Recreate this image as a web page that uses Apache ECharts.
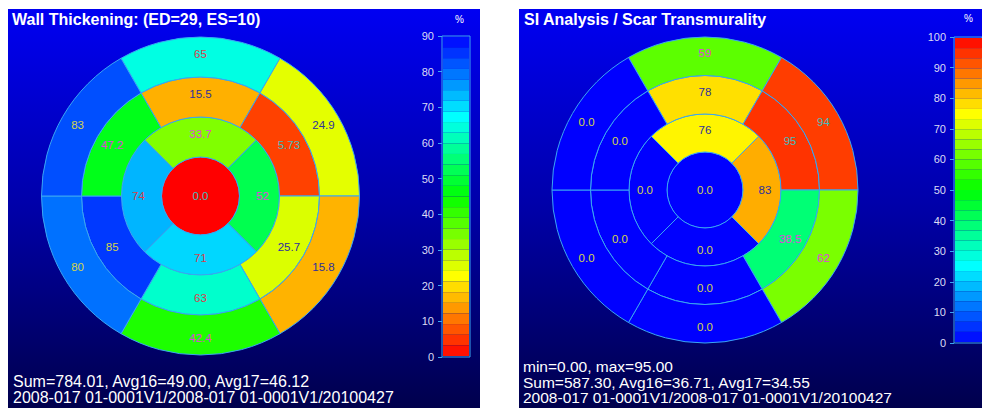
<!DOCTYPE html>
<html><head><meta charset="utf-8">
<script src="https://cdn.jsdelivr.net/npm/echarts@6/dist/echarts.min.js"></script>
<style>html,body{margin:0;padding:0;background:#fff;}#c{width:982px;height:408px;}</style>
</head><body><div id="c"></div>
<script>
// ---------- data ----------
const leftTitle = 'Wall Thickening: (ED=29, ES=10)';
const rightTitle = 'SI Analysis / Scar Transmurality';
// AHA 17-segment values; each ring listed clockwise starting with the top segment
const leftBasal = [65, 24.9, 15.8, 42.4, 80, 83];
const leftMid = [15.5, 5.73, 25.7, 63, 85, 47.2];
const leftApical = [33.7, 52, 71, 74];
const leftApex = [0.0];
const rightBasal = [59, 94, 62, 0, 0, 0];
const rightMid = [78, 95, 38.5, 0, 0, 0];
const rightApical = [76, 83, 0, 0];
const rightApex = [0.0];
const leftRange = [0, 90];
const rightRange = [0, 100];
const tickStep = 10;
const unitLabel = '%';
const leftInfo = ['Sum=784.01, Avg16=49.00, Avg17=46.12', '2008-017 01-0001V1/2008-017 01-0001V1/20100427'];
const rightInfo = ['min=0.00, max=95.00', 'Sum=587.30, Avg16=36.71, Avg17=34.55', '2008-017 01-0001V1/2008-017 01-0001V1/20100427'];

// ---------- helpers ----------
const FONT = 'Liberation Sans, Arial, sans-serif';
const BORDER = '#3aa6f2';
const BANDS = 30;
function hueRGB(h) {
  const x = 1 - Math.abs((h / 60) % 2 - 1);
  let r, g, b;
  if (h < 60) { r = 1; g = x; b = 0; } else if (h < 120) { r = x; g = 1; b = 0; }
  else if (h < 180) { r = 0; g = 1; b = x; } else { r = 0; g = x; b = 1; }
  return [r, g, b].map(c => Math.round(c * 255));
}
function makeHue(range, lowIsBlue) {
  return v => {
    let t = (v - range[0]) / (range[1] - range[0]);
    t = Math.max(0, Math.min(1, t));
    return lowIsBlue ? 240 * (1 - t) : 240 * t;
  };
}
const css = c => 'rgb(' + c.join(',') + ')';
// contrasting label colour chosen from the segment's hue
function labelColor(h) {
  if (h >= 200) return '#d4d44c';
  if (h >= 160) return '#d8404c';
  if (h >= 80) return '#e044dc';
  if (h >= 30) return '#30309c';
  return '#44bcbc';
}
function fmt(v) {
  if (v === 0) return '0.0';
  if (v >= 50) return String(Math.round(v));
  if (v >= 10) return v.toFixed(1);
  return v.toFixed(2);
}
function ring(values, center, r0, r1, startAngle, hue) {
  return {
    type: 'pie', center: center, radius: [r0, r1], startAngle: startAngle, clockwise: true,
    silent: true, animation: false, avoidLabelOverlap: false,
    label: { show: true, position: r0 === 0 ? 'center' : 'inside', fontSize: 11.5, fontFamily: FONT },
    labelLine: { show: false }, emphasis: { disabled: true },
    itemStyle: { borderColor: BORDER, borderWidth: 1 },
    data: values.map((v, i) => ({
      value: 1, name: 's' + i,
      itemStyle: { color: css(hueRGB(hue(v))) },
      label: { formatter: fmt(v), color: labelColor(hue(v)) }
    }))
  };
}
function pieces(range, hue) {
  const out = [], step = (range[1] - range[0]) / BANDS;
  for (let i = 0; i < BANDS; i++) {
    const lo = range[0] + i * step, hi = lo + step;
    const p = { gte: lo, color: css(hueRGB(hue(lo + step / 2))) };
    if (i === BANDS - 1) p.lte = hi; else p.lt = hi;
    out.push(p);
  }
  return out;
}
const leftHue = makeHue(leftRange, false);
const rightHue = makeHue(rightRange, true);

const LC = [200.5, 196], LR = [39, 79, 119, 159];
const RC = [705, 190], RR = [38, 76, 114.5, 153];

const bg = { type: 'linear', x: 0, y: 0, x2: 0, y2: 1,
  colorStops: [{ offset: 0, color: '#0000f2' }, { offset: 0.5, color: '#0000a8' }, { offset: 1, color: '#00004c' }] };

const series = [
  ring(leftApex, LC, 0, LR[0], 90, leftHue),
  ring(leftApical, LC, LR[0], LR[1], 135, leftHue),
  ring(leftMid, LC, LR[1], LR[2], 120, leftHue),
  ring(leftBasal, LC, LR[2], LR[3], 120, leftHue),
  ring(rightApex, RC, 0, RR[0], 90, rightHue),
  ring(rightApical, RC, RR[0], RR[1], 135, rightHue),
  ring(rightMid, RC, RR[1], RR[2], 120, rightHue),
  ring(rightBasal, RC, RR[2], RR[3], 120, rightHue),
  { type: 'scatter', xAxisIndex: 0, yAxisIndex: 0, data: [], silent: true },
  { type: 'scatter', xAxisIndex: 1, yAxisIndex: 1, data: [], silent: true }
];

const axisY = (grid, range) => ({
  gridIndex: grid, type: 'value', min: range[0], max: range[1], interval: tickStep, position: 'left',
  axisLine: { show: false }, splitLine: { show: false },
  axisTick: { show: true, length: 4, lineStyle: { color: BORDER } },
  axisLabel: { color: '#dcdcf4', fontSize: 11, margin: 8, fontFamily: FONT }
});
const txt = (text, left, top, size, weight, lh) => ({
  text: text, left: left, top: top, padding: 0,
  textStyle: { color: '#ffffff', fontSize: size, fontWeight: weight, fontFamily: FONT, lineHeight: lh }
});

const option = {
  animation: false,
  backgroundColor: '#ffffff',
  graphic: [
    { type: 'rect', z: -10, silent: true, shape: { x: 8, y: 9, width: 472, height: 399 }, style: { fill: bg } },
    { type: 'rect', z: -10, silent: true, shape: { x: 519, y: 9, width: 463, height: 399 }, style: { fill: bg } }
  ],
  title: [
    txt(leftTitle, 12, 11, 16, 'bold', 16),
    txt(rightTitle, 524, 11, 16, 'bold', 16),
    txt(unitLabel, 455, 13, 10, 'normal', 12),
    txt(unitLabel, 964, 12, 10, 'normal', 12),
    txt(leftInfo.join('\n'), 13, 374, 16, 'normal', 15.5),
    txt(rightInfo.join('\n'), 523, 359, 15.5, 'normal', 15.5)
  ],
  grid: [
    { left: 442, top: 36, width: 28, height: 321, show: true, borderColor: BORDER, borderWidth: 1, backgroundColor: 'rgba(0,0,0,0)' },
    { left: 954, top: 37, width: 28, height: 306, show: true, borderColor: BORDER, borderWidth: 1, backgroundColor: 'rgba(0,0,0,0)' }
  ],
  xAxis: [{ gridIndex: 0, type: 'value', show: false }, { gridIndex: 1, type: 'value', show: false }],
  yAxis: [axisY(0, leftRange), axisY(1, rightRange)],
  visualMap: [
    { type: 'piecewise', seriesIndex: 8, pieces: pieces(leftRange, leftHue), orient: 'vertical',
      left: 443, top: 37, itemWidth: 26, itemHeight: 319 / BANDS, itemGap: 0, itemSymbol: 'rect',
      showLabel: false, padding: 0, selectedMode: false, hoverLink: false },
    { type: 'piecewise', seriesIndex: 9, pieces: pieces(rightRange, rightHue), orient: 'vertical',
      left: 955, top: 38, itemWidth: 27, itemHeight: 304 / BANDS, itemGap: 0, itemSymbol: 'rect',
      showLabel: false, padding: 0, selectedMode: false, hoverLink: false }
  ],
  series: series
};
const chart = echarts.init(document.getElementById('c'), null, { renderer: 'svg', width: 982, height: 408 });
chart.setOption(option);
</script></body></html>
